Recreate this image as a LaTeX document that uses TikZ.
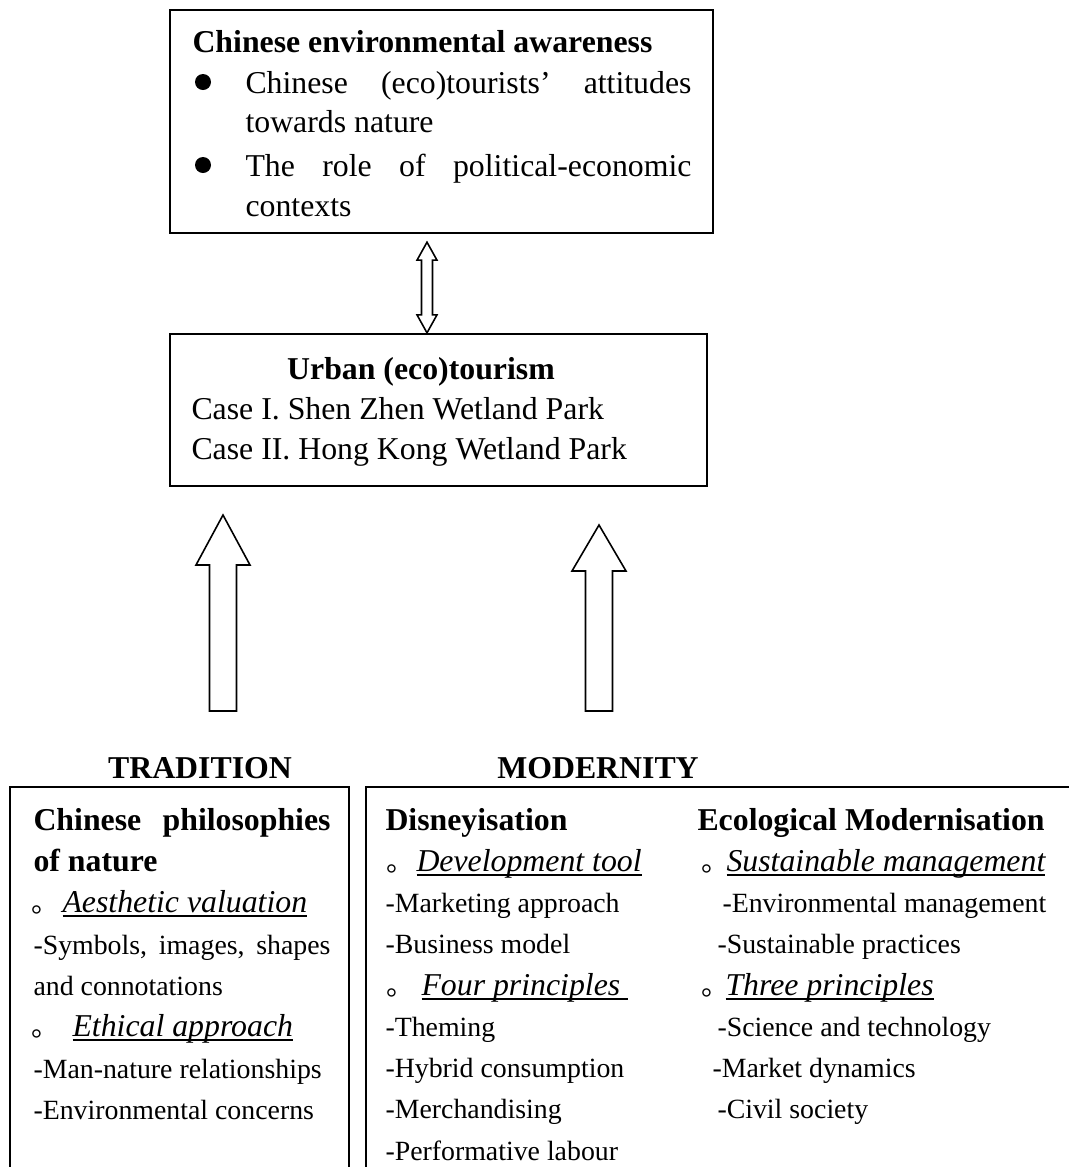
\documentclass[tikz,border=0pt]{standalone}
\usepackage{fontspec}
\setmainfont{Liberation Serif}
\newfontfamily\cjkdot{Noto Sans CJK SC}
\usetikzlibrary{calc}
\newcommand{\lineunder}[1]{\setbox0\hbox{#1}\rlap{\rule[-1.8pt]{\wd0}{0.6pt}}\box0}

\begin{document}
\begin{tikzpicture}[x=0.3774pt,y=-0.3774pt,line join=miter,
  frame/.style={draw,line width=0.85pt},
  hollow/.style={draw,fill=white,line width=0.6pt},
  head/.style={anchor=base west,inner sep=0pt,font=\fontsize{12}{14}\selectfont\bfseries},
  body/.style={anchor=base west,inner sep=0pt,font=\fontsize{12}{14}\selectfont},
  sub/.style={anchor=base west,inner sep=0pt,font=\fontsize{12}{14}\selectfont\itshape},
  item/.style={anchor=base west,inner sep=0pt,font=\fontsize{10.5}{12}\selectfont},
  ring/.style={anchor=base west,inner sep=0pt,font=\fontsize{10.5}{12}\selectfont\cjkdot}]
  \useasboundingbox (0,0) rectangle (1069,1167);

  \node[frame,minimum width=204.9pt,minimum height=84.2pt] (aware) at (441.5,121.5) {};
  \node[head] (awaretitle) at (192,52) {Chinese environmental awareness};
  \foreach \y in {82,165}
    \fill (203,\y) circle[radius=8];
  \node[body] (att1) at (245,93) {\makebox[168.3pt][s]{Chinese (eco)tourists' attitudes}};
  \node[body] (att2) at (245,132) {towards nature};
  \node[body] (pol1) at (245,176) {\makebox[168.3pt][s]{The role of political-economic}};
  \node[body] (pol2) at (245,216) {contexts};

  \node[frame,minimum width=202.7pt,minimum height=57.4pt] (urban) at (438.5,410) {};
  \node[head,anchor=base] (urbantitle) at (421,379) {Urban (eco)tourism};
  \node[body] (case1) at (191,419) {Case I. Shen Zhen Wetland Park};
  \node[body] (case2) at (191,459) {Case II. Hong Kong Wetland Park};

  \coordinate (dtop) at ($(aware.south)+(-14.5,8)$);
  \coordinate (dbot) at (dtop |- urban.north);
  \draw[hollow] (dtop) -- ++(10,18) -- ++(-4.5,0) -- ($(dbot)+(5.5,-18)$) -- ++(4.5,0)
    -- (dbot) -- ++(-10,-18) -- ++(4.5,0) -- ($(dtop)+(-5.5,18)$) -- ++(-4.5,0) -- cycle;

  \foreach \x/\tip/\base in {223/515/565,599/525/571}
    \draw[hollow] (\x,\tip) -- (\x+27,\base) -- (\x+13.5,\base) -- (\x+13.5,711)
      -- (\x-13.5,711) -- (\x-13.5,\base) -- (\x-27,\base) -- cycle;

  \node[head,anchor=base] (trad) at (200,778) {TRADITION};
  \node[head,anchor=base] (modern) at (598,778) {MODERNITY};
  \draw[frame] (10,1172) -- (10,787) -- (349,787) -- (349,1172);
  \draw[frame] (366,1172) -- (366,787) -- (1074,787);

  \node[head] (phil1) at (33,830) {\makebox[112.1pt][s]{Chinese philosophies}};
  \node[head] (phil2) at (33,871) {of nature};
  \node[ring] (aesdot) at (31,912) {。};
  \node[sub] (aes) at (62,912) {\lineunder{Aesthetic valuation}};
  \node[item] (sym1) at (33,954) {\makebox[112.1pt][s]{-Symbols, images, shapes}};
  \node[item] (sym2) at (33,995) {and connotations};
  \node[ring] (ethdot) at (31,1036) {。};
  \node[sub] (eth) at (72,1036) {\lineunder{Ethical approach}};
  \node[item] (man) at (33,1078) {-Man-nature relationships};
  \node[item] (env) at (33,1119) {-Environmental concerns};

  \node[head] (disney) at (385,830) {Disneyisation};
  \node[ring] (devdot) at (386,871) {。};
  \node[sub] (dev) at (416,871) {\lineunder{Development tool}};
  \node[ring] (fourdot) at (386,995) {。};
  \node[sub] (four) at (421,995) {\lineunder{Four principles\ }};
  \foreach \i/\lab in {2/Marketing approach,3/Business model,5/Theming,6/Hybrid consumption,7/Merchandising,8/Performative labour}
    \node[item] (dis\i) at (385,830+41.25*\i) {-\lab};

  \node[head] (ecomod) at (697,830) {Ecological Modernisation};
  \node[ring] (susdot) at (701,871) {。};
  \node[sub] (sus) at (726,871) {\lineunder{Sustainable management}};
  \node[ring] (threedot) at (701,995) {。};
  \node[sub] (three) at (725,995) {\lineunder{Three principles}};
  \foreach \i/\xx/\lab in {2/722/Environmental management,3/717/Sustainable practices,5/717/Science and technology,6/712/Market dynamics,7/717/Civil society}
    \node[item] (eco\i) at (\xx,830+41.25*\i) {-\lab};
\end{tikzpicture}
\end{document}
